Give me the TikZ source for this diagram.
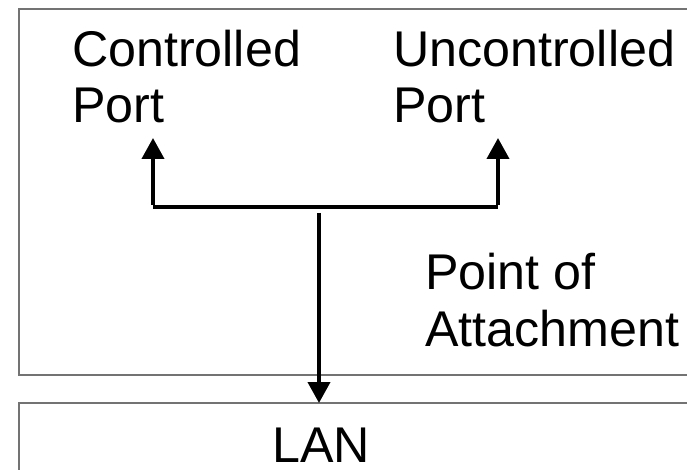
\documentclass[tikz,border=0pt]{standalone}
\usepackage{fontspec}
\setmainfont{Liberation Sans}
\usetikzlibrary{arrows.meta}
\begin{document}
\begin{tikzpicture}[x=1pt,y=-1pt,
  frame/.style={draw=black!55,line width=1.5pt},
  lbl/.style={anchor=base west,inner sep=0pt,text depth=0pt,font=\fontsize{50.2}{57}\selectfont},
  conn/.style={line width=4pt,line cap=butt},
  tip/.style={-{Triangle[width=22pt,length=21pt]}}]
\useasboundingbox (0,0) rectangle (687,470);
\clip (0,0) rectangle (687,470);
\fill[white] (0,0) rectangle (687,470);
\draw[frame] (19,9) rectangle (720,375);
\draw[frame] (19,403) rectangle (720,500);
\node[lbl] (c1) at (72,67) {Controlled};
\node[lbl] (c2) at (72,123) {Port};
\node[lbl] (u1) at (393,67) {Uncontrolled};
\node[lbl] (u2) at (393,123) {Port};
\node[lbl] (p1) at (425,289) {Point of};
\node[lbl] (p2) at (425,346) {Attachment};
\node[lbl] (lan) at (272,462) {LAN};
\coordinate (cport) at (153,138);
\coordinate (uport) at (498,138);
\coordinate (cb) at (153,207);
\coordinate (ub) at (498,207);
\coordinate (stem) at (319,213);
\coordinate (lanin) at (319,403);
\draw[conn] (cb) -- (ub);
\draw[conn,tip] ([yshift=2pt]cb) -- (cport);
\draw[conn,tip] ([yshift=2pt]ub) -- (uport);
\draw[conn,tip] (stem) -- (lanin);
\end{tikzpicture}
\end{document}
